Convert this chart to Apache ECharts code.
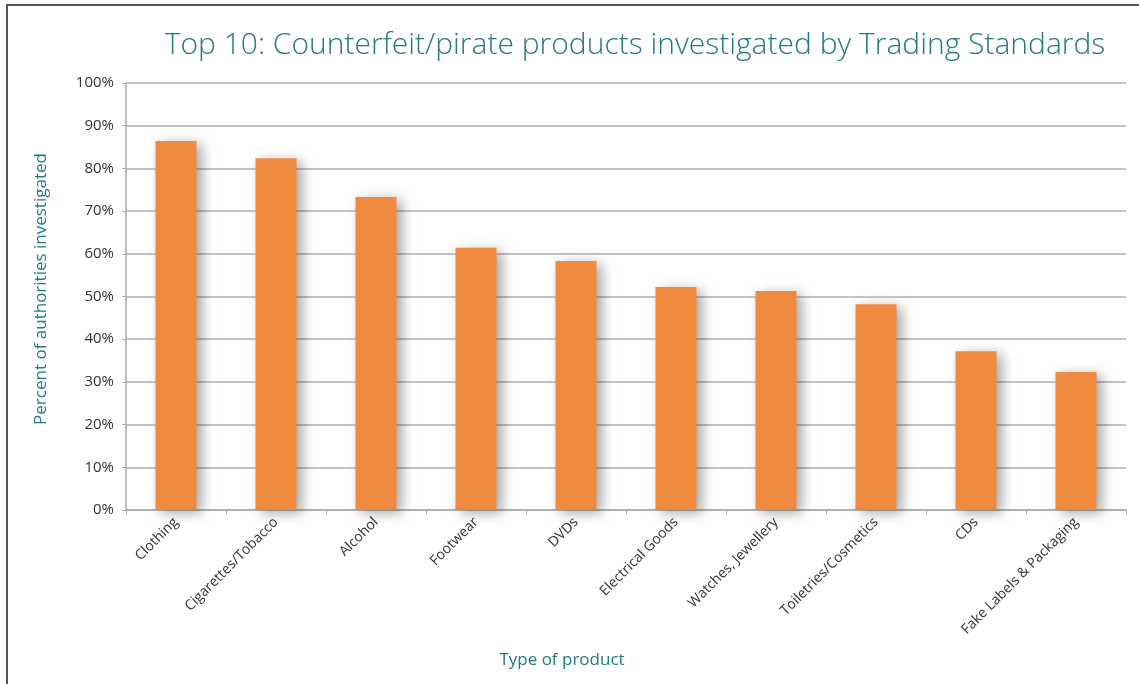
<!DOCTYPE html>
<html>
<head>
<meta charset="utf-8">
<script src="https://cdn.jsdelivr.net/npm/echarts@6/dist/echarts.min.js"></script>
<style>
html,body{margin:0;padding:0;background:#fff;}
#chart{width:1139px;height:684px;}
</style>
</head>
<body>
<div id="chart"></div>
<script>
const categories = ["Clothing","Cigarettes/Tobacco","Alcohol","Footwear","DVDs","Electrical Goods","Watches, Jewellery","Toiletries/Cosmetics","CDs","Fake Labels & Packaging"];
const values = [86.4, 82.4, 73.3, 61.4, 58.3, 52.2, 51.3, 48.2, 37.2, 32.3];
const yTicks = [0, 10, 20, 30, 40, 50, 60, 70, 80, 90, 100];

const teal = '#237a80';
const font = '"Open Sans", "Noto Sans", sans-serif';
const chart = echarts.init(document.getElementById('chart'));
chart.setOption({
  animation: false,
  textStyle: {fontFamily: font},
  title: [
    {text: 'Top 10: Counterfeit/pirate products investigated by Trading Standards', left: 630, top: 25, textAlign: 'center',
     textStyle: {color: teal, fontSize: 30, fontWeight: 300, fontFamily: font}},
    {text: 'Type of product', left: 557, top: 647, textAlign: 'center',
     textStyle: {color: teal, fontSize: 17, fontWeight: 'normal', fontFamily: font}}
  ],
  graphic: [{
    type: 'rect', shape: {x: 7, y: 5, width: 1200, height: 800},
    style: {fill: 'none', stroke: '#555', lineWidth: 2}, silent: true
  }, {
    type: 'text', x: 41, y: 289, rotation: Math.PI / 2,
    style: {text: 'Percent of authorities investigated', fill: teal, font: '17px ' + font,
      align: 'center', verticalAlign: 'middle'}, silent: true
  }],
  grid: {left: 126, right: 13, top: 83, bottom: 174, containLabel: false},
  xAxis: {
    type: 'category', data: categories,
    axisLine: {show: true, lineStyle: {color: '#aaa', width: 1.5}},
    axisTick: {show: true, alignWithLabel: false, length: 4, lineStyle: {color: '#aaa'}},
    axisLabel: {rotate: 45, color: '#333', fontSize: 14, margin: 10, interval: 0, fontFamily: font}
  },
  yAxis: {
    type: 'value', min: 0, max: 100, interval: 10,
    axisLine: {show: true, lineStyle: {color: '#aaa', width: 1.5}},
    axisTick: {show: true, length: 4, lineStyle: {color: '#aaa'}},
    axisLabel: {color: '#333', fontSize: 15, margin: 12, fontFamily: font,
      formatter: v => yTicks.includes(v) ? v + '%' : ''},
    splitLine: {show: true, lineStyle: {color: '#b0b0b0', width: 1.5}}
  },
  series: [{
    type: 'bar', data: values, barWidth: '41%',
    itemStyle: {color: '#f08a3e', shadowColor: 'rgba(0,0,0,0.35)', shadowBlur: 12, shadowOffsetX: 5, shadowOffsetY: 3}
  }]
});
</script>
</body>
</html>
